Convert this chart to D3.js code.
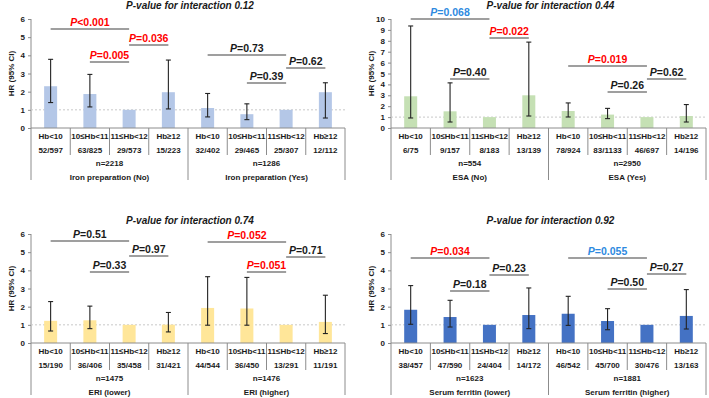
<!DOCTYPE html>
<html lang="en">
<head>
    <meta charset="UTF-8">
    <title>HR by Hb category</title>
    <script src="https://d3js.org/d3.v7.min.js"></script>
    <style>
        body { margin: 0; background: #fff; }
        svg text { font-family: "Liberation Sans", Arial, sans-serif; font-weight: bold; }
    </style>
</head>
<body>
    <div id="chart"></div>

    <script>
        // Data
        const categories = ["Hb<10", "10≤Hb<11", "11≤Hb<12", "Hb≥12"];
        const interactionP = ["0.12", "0.44", "0.74", "0.92"];
        // brackets: Hb<10 vs ref, Hb≥12 vs ref, 10≤Hb<11 vs ref
        const bracketPairs = [[0, 2], [2, 3], [1, 2]];

        // Iron preparation (No / Yes)
        const ironGroups = ["Iron preparation (No)", "Iron preparation (Yes)"];
        const ironN = ["n=2218", "n=1286"];
        const ironHR = [2.30, 1.87, 1.00, 1.97, 1.10, 0.76, 1.00, 1.97];
        const ironLo = [1.40, 1.16, null, 1.05, 0.61, 0.46, null, 0.55];
        const ironHi = [3.78, 2.95, null, 3.74, 1.90, 1.33, null, 2.49];
        const ironCounts = ["52/597", "63/825", "29/573", "15/223", "32/402", "29/465", "25/307", "12/112"];
        const ironP = ["<0.001", "=0.036", "=0.005", "=0.73", "=0.62", "=0.39"];
        const ironPSig = ["red", "red", "red", "black", "black", "black"];

        // ESA (No / Yes)
        const esaGroups = ["ESA (No)", "ESA (Yes)"];
        const esaN = ["n=554", "n=2950"];
        const esaHR = [2.91, 1.53, 1.00, 3.00, 1.56, 1.23, 1.00, 1.10];
        const esaLo = [0.92, 0.55, null, 1.10, 1.01, 0.86, null, 0.55];
        const esaHi = [9.36, 4.14, null, 7.88, 2.30, 1.80, null, 2.15];
        const esaCounts = ["6/75", "9/157", "8/183", "13/139", "78/924", "83/1133", "46/697", "14/196"];
        const esaP = ["=0.068", "=0.022", "=0.40", "=0.019", "=0.62", "=0.26"];
        const esaPSig = ["blue", "red", "black", "red", "black", "black"];

        // ERI (lower / higher)
        const eriGroups = ["ERI (lower)", "ERI (higher)"];
        const eriN = ["n=1475", "n=1476"];
        const eriHR = [1.22, 1.25, 1.00, 1.01, 1.93, 1.90, 1.00, 1.16];
        const eriLo = [0.66, 0.79, null, 0.61, 0.98, 0.98, null, 0.52];
        const eriHi = [2.28, 2.03, null, 1.68, 3.65, 3.61, null, 2.63];
        const eriCounts = ["15/190", "36/406", "35/458", "31/421", "44/544", "36/450", "13/291", "11/191"];
        const eriP = ["=0.51", "=0.97", "=0.33", "=0.052", "=0.71", "=0.051"];
        const eriPSig = ["black", "black", "black", "red", "black", "red"];

        // Serum ferritin (lower / higher)
        const ferGroups = ["Serum ferritin (lower)", "Serum ferritin (higher)"];
        const ferN = ["n=1623", "n=1881"];
        const ferHR = [1.83, 1.43, 1.00, 1.54, 1.61, 1.21, 1.00, 1.49];
        const ferLo = [1.03, 0.88, null, 0.79, 0.97, 0.73, null, 0.77];
        const ferHi = [3.16, 2.35, null, 3.03, 2.57, 1.89, null, 2.94];
        const ferCounts = ["38/457", "47/590", "24/404", "14/172", "46/542", "45/700", "30/476", "13/163"];
        const ferP = ["=0.034", "=0.23", "=0.18", "=0.055", "=0.27", "=0.50"];
        const ferPSig = ["red", "black", "black", "blue", "black", "black"];

        // Layout
        const width = 709, height = 398;
        const sigColor = { red: "#ff0000", blue: "#2e8ae0", black: "#1a1a1a" };
        const axisColor = "#8c8c8c";

        const panels = [
            { x0: 31, x1: 345, top: 19, zero: 128, yMax: 6, color: "#b4c7e7", title: interactionP[0],
              groups: ironGroups, n: ironN, hr: ironHR, lo: ironLo, hi: ironHi, counts: ironCounts,
              p: ironP, sig: ironPSig, levels: [10, 26, 43, 36, 49, 64] },
            { x0: 391, x1: 706, top: 19, zero: 128, yMax: 10, color: "#c5e0b4", title: interactionP[1],
              groups: esaGroups, n: esaN, hr: esaHR, lo: esaLo, hi: esaHi, counts: esaCounts,
              p: esaP, sig: esaPSig, levels: [0, 19, 60, 47, 60, 73] },
            { x0: 31, x1: 345, top: 234, zero: 343, yMax: 6, color: "#ffe699", title: interactionP[2],
              groups: eriGroups, n: eriN, hr: eriHR, lo: eriLo, hi: eriHi, counts: eriCounts,
              p: eriP, sig: eriPSig, levels: [7, 22, 38, 8, 23, 38] },
            { x0: 391, x1: 706, top: 234, zero: 343, yMax: 6, color: "#4472c4", title: interactionP[3],
              groups: ferGroups, n: ferN, hr: ferHR, lo: ferLo, hi: ferHi, counts: ferCounts,
              p: ferP, sig: ferPSig, levels: [24, 41, 57, 24, 40, 55] }
        ];

        const svg = d3.select("#chart")
            .append("svg")
            .attr("width", width)
            .attr("height", height);

        panels.forEach(pn => {
            const g = svg.append("g");
            const keys = d3.range(8);

            const xScale = d3.scaleBand()
                .domain(keys)
                .range([pn.x0, pn.x1]);
            const yScale = d3.scaleLinear()
                .domain([0, pn.yMax])
                .range([pn.zero, pn.top]);
            const cx = i => xScale(i) + xScale.bandwidth() / 2;

            // title
            g.append("text")
                .attr("x", (pn.x0 + pn.x1) / 2 + 2)
                .attr("y", pn.top - 10)
                .attr("text-anchor", "middle")
                .attr("font-size", "10px")
                .attr("font-style", "italic")
                .attr("fill", "#1a1a1a")
                .text("P-value for interaction " + pn.title);

            // y axis
            const yAxis = d3.axisLeft(yScale)
                .ticks(pn.yMax)
                .tickSize(3)
                .tickPadding(3)
                .tickFormat(d3.format("d"));
            const ya = g.append("g")
                .attr("transform", `translate(${pn.x0}, 0)`)
                .call(yAxis);
            ya.select(".domain").remove();
            ya.selectAll("line").attr("stroke", axisColor);
            ya.selectAll("text").attr("font-size", "8px").attr("fill", "#1a1a1a")
                .style("font-family", "'Liberation Sans', Arial, sans-serif").style("font-weight", "bold");
            g.append("line")
                .attr("x1", pn.x0).attr("x2", pn.x0)
                .attr("y1", pn.top).attr("y2", pn.zero + 52)
                .attr("stroke", axisColor);

            g.append("text")
                .attr("transform", `translate(${pn.x0 - 17}, ${(pn.top + pn.zero) / 2}) rotate(-90)`)
                .attr("text-anchor", "middle")
                .attr("font-size", "8px")
                .attr("fill", "#1a1a1a")
                .text("HR (95% CI)");

            // reference line at HR = 1
            g.append("line")
                .attr("x1", pn.x0).attr("x2", pn.x1)
                .attr("y1", yScale(1)).attr("y2", yScale(1))
                .attr("stroke", "#c8c8c8")
                .attr("stroke-dasharray", "2,2");

            // bars
            g.selectAll("rect.bar")
                .data(keys)
                .enter()
                .append("rect")
                .attr("class", "bar")
                .attr("x", i => cx(i) - 6.5)
                .attr("width", 13)
                .attr("y", i => yScale(pn.hr[i]))
                .attr("height", i => yScale(0) - yScale(pn.hr[i]))
                .attr("fill", pn.color);

            // error bars
            const ci = keys.filter(i => pn.lo[i] !== null);
            g.selectAll("line.ci")
                .data(ci)
                .enter()
                .append("line")
                .attr("class", "ci")
                .attr("x1", cx).attr("x2", cx)
                .attr("y1", i => yScale(pn.lo[i]))
                .attr("y2", i => yScale(pn.hi[i]))
                .attr("stroke", "#222")
                .attr("stroke-width", 1.1);
            ["lo", "hi"].forEach(k => {
                g.selectAll("line.cap" + k)
                    .data(ci)
                    .enter()
                    .append("line")
                    .attr("class", "cap" + k)
                    .attr("x1", i => cx(i) - 2.5).attr("x2", i => cx(i) + 2.5)
                    .attr("y1", i => yScale(pn[k][i]))
                    .attr("y2", i => yScale(pn[k][i]))
                    .attr("stroke", "#222")
                    .attr("stroke-width", 1.1);
            });

            // x axis line and separators
            g.append("line")
                .attr("x1", pn.x0).attr("x2", pn.x1)
                .attr("y1", pn.zero).attr("y2", pn.zero)
                .attr("stroke", axisColor);
            d3.range(1, 9).forEach(i => {
                const x = i === 8 ? pn.x1 : xScale(i);
                const long = i % 4 === 0;
                g.append("line")
                    .attr("x1", x).attr("x2", x)
                    .attr("y1", pn.zero)
                    .attr("y2", pn.zero + (long ? 52 : 27))
                    .attr("stroke", axisColor);
            });

            // category labels and counts
            g.selectAll("text.cat")
                .data(keys)
                .enter()
                .append("text")
                .attr("class", "cat")
                .attr("x", cx)
                .attr("y", pn.zero + 11)
                .attr("text-anchor", "middle")
                .attr("font-size", "8px")
                .attr("fill", "#1a1a1a")
                .text(i => categories[i % 4]);
            g.selectAll("text.cnt")
                .data(keys)
                .enter()
                .append("text")
                .attr("class", "cnt")
                .attr("x", cx)
                .attr("y", pn.zero + 25)
                .attr("text-anchor", "middle")
                .attr("font-size", "8px")
                .attr("fill", "#1a1a1a")
                .text(i => pn.counts[i]);

            // group labels
            [0, 1].forEach(gi => {
                const mid = (xScale(gi * 4) + (gi === 1 ? pn.x1 : xScale(4))) / 2;
                g.append("text")
                    .attr("x", mid).attr("y", pn.zero + 38)
                    .attr("text-anchor", "middle")
                    .attr("font-size", "8px")
                    .attr("fill", "#1a1a1a")
                    .text(pn.n[gi]);
                g.append("text")
                    .attr("x", mid).attr("y", pn.zero + 52)
                    .attr("text-anchor", "middle")
                    .attr("font-size", "8px")
                    .attr("fill", "#1a1a1a")
                    .text(pn.groups[gi]);
            });

            // P-value brackets
            pn.p.forEach((txt, j) => {
                const gi = Math.floor(j / 3);
                const pair = bracketPairs[j % 3];
                const xa = cx(gi * 4 + pair[0]);
                const xb = cx(gi * 4 + pair[1]);
                const ly = pn.top + pn.levels[j];
                g.append("line")
                    .attr("x1", xa).attr("x2", xb)
                    .attr("y1", ly).attr("y2", ly)
                    .attr("stroke", "#7f7f7f")
                    .attr("stroke-width", 1.3);
                const t = g.append("text")
                    .attr("x", (xa + xb) / 2)
                    .attr("y", ly - 3)
                    .attr("text-anchor", "middle")
                    .attr("font-size", "10.5px")
                    .attr("fill", sigColor[pn.sig[j]]);
                t.append("tspan").attr("font-style", "italic").text("P");
                t.append("tspan").text(txt);
            });
        });
    </script>
</body>
</html>
